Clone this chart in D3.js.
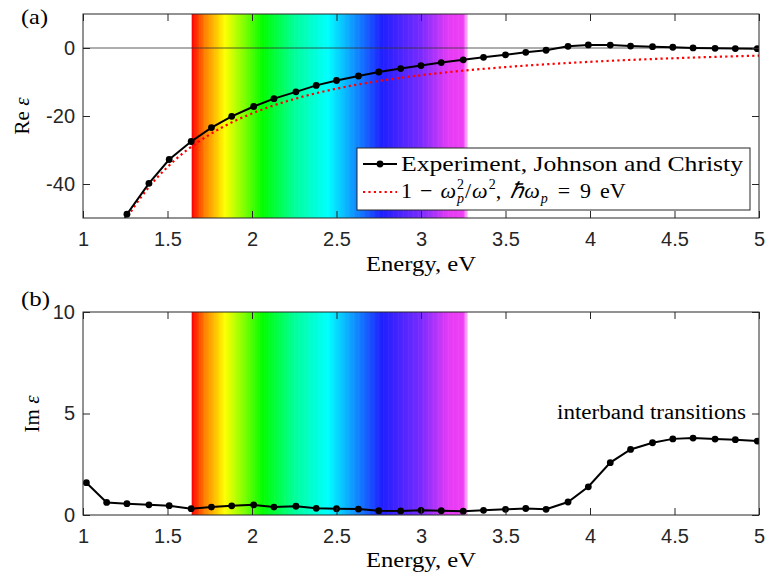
<!DOCTYPE html>
<html><head><meta charset="utf-8">
<script src="https://cdn.jsdelivr.net/npm/d3@7"></script>
<style>
body{margin:0;background:#fff;}
svg{display:block;}
</style></head>
<body>
<svg id="chart" width="768" height="576"></svg>
<script>
// ---- data (silver, Johnson & Christy) ----
const energy = [1.02,1.14,1.26,1.39,1.51,1.64,1.76,1.88,2.01,2.13,2.26,2.38,2.50,2.63,2.75,2.88,3.00,3.12,3.25,3.37,3.50,3.62,3.74,3.87,3.99,4.12,4.24,4.37,4.49,4.61,4.74,4.86,4.99];
const reEps = [-77.9,-60.8,-48.9,-39.8,-32.8,-27.5,-23.4,-20.1,-17.2,-14.9,-12.9,-11.0,-9.56,-8.23,-7.06,-6.06,-5.17,-4.28,-3.47,-2.74,-2.00,-1.28,-0.66,0.50,0.90,0.87,0.58,0.39,0.22,0.02,-0.10,-0.17,-0.21];
const imEps = [1.59,0.62,0.56,0.50,0.46,0.31,0.39,0.45,0.50,0.39,0.43,0.33,0.31,0.29,0.21,0.20,0.23,0.21,0.19,0.23,0.28,0.32,0.28,0.64,1.39,2.58,3.23,3.56,3.75,3.79,3.74,3.71,3.64];
// Drude curve
const drudeEnergy = [1.0,1.1,1.2,1.25,1.3,1.4,1.5,1.6,1.75,1.9,2.0,2.25,2.5,2.75,3.0,3.25,3.5,3.75,4.0,4.25,4.5,4.75,5.0];
const drudeEps   = [-80,-65.9,-55.25,-50.8,-46.9,-40.3,-35,-30.6,-25.45,-21.4,-19.25,-15,-11.96,-9.71,-8,-6.67,-5.61,-4.76,-4.06,-3.48,-3,-2.59,-2.24];
// visible range (eV)
const visible = [1.643, 3.272];
const xTicks = [1,1.5,2,2.5,3,3.5,4,4.5,5];
const xTickLabels = ["1","1.5","2","2.5","3","3.5","4","4.5","5"];
const reTicks = [-40,-20,0];
const reTickLabels = ["-40","-20","0"];
const imTicks = [0,5,10];
const imTickLabels = ["0","5","10"];
const legendLabel = "Experiment, Johnson and Christy";

// ---- styles ----
const specStopE = [1.643,1.72,1.84,2.065,2.25,2.45,2.77,3.0,3.16,3.255,3.262,3.272];
const specStopC = ["#ff0000","#ff8000","#ffff00","#00ff00","#00ff99","#00ffff","#1f1fff","#7a2cff","#e33cf5","#f040f5","#f6a0f8","#f6a0f8"];
const axisColor = "#262626";
const sansFont = "'Liberation Sans', Arial, sans-serif";
const serifFont = "'Liberation Serif', 'Times New Roman', serif";

const svg = d3.select("#chart");
const x = d3.scaleLinear().domain([1,5]).range([83,759]);
const yRe = d3.scaleLinear().domain([-50,10]).range([218,14]);
const yIm = d3.scaleLinear().domain([0,10]).range([515,312]);
const specColor = d3.scaleLinear().domain(specStopE).range(specStopC).interpolate(d3.interpolateRgb);

function panel(id, y) {
  const [x0,x1] = x.range();
  const [yb,yt] = y.range();
  const g = svg.append("g");
  svg.append("clipPath").attr("id","clip"+id).append("rect")
    .attr("x",x0).attr("y",yt).attr("width",x1-x0).attr("height",yb-yt);
  const inner = g.append("g").attr("clip-path",`url(#clip${id})`);
  const n = 220;
  const stripes = d3.range(n).map(i => visible[0] + (visible[1]-visible[0])*i/n);
  const dw = (visible[1]-visible[0])/n;
  inner.append("g").selectAll("rect").data(stripes).join("rect")
    .attr("x", d => x(d))
    .attr("width", d => x(d+dw)-x(d)+0.6)
    .attr("y", yt).attr("height", yb-yt)
    .attr("fill", d => specColor(d+dw/2));
  return {g, inner, x0, x1, yb, yt};
}

function axes(p, y, yTicks, yLabels) {
  const {g,x0,x1,yb,yt} = p;
  const ax = g.append("g").attr("transform",`translate(0,${yb})`)
    .call(d3.axisBottom(x).tickValues(xTicks).tickFormat((d,i)=>xTickLabels[i]).tickSizeInner(-7).tickSizeOuter(0).tickPadding(14));
  const axT = g.append("g").attr("transform",`translate(0,${yt})`)
    .call(d3.axisTop(x).tickValues(xTicks).tickFormat("").tickSizeInner(-7).tickSizeOuter(0));
  const ay = g.append("g").attr("transform",`translate(${x0},0)`)
    .call(d3.axisLeft(y).tickValues(yTicks).tickFormat((d,i)=>yLabels[i]).tickSizeInner(-7).tickSizeOuter(0).tickPadding(8));
  const ayR = g.append("g").attr("transform",`translate(${x1},0)`)
    .call(d3.axisRight(y).tickValues(yTicks).tickFormat("").tickSizeInner(-7).tickSizeOuter(0));
  [ax,axT,ay,ayR].forEach(a => {
    a.select(".domain").remove();
    a.selectAll("line").attr("stroke",axisColor).attr("stroke-width",1);
    a.selectAll("text").attr("fill",axisColor).style("font-family",sansFont).style("font-size","20px");
  });
  g.append("rect").attr("x",x0).attr("y",yt).attr("width",x1-x0).attr("height",yb-yt)
    .attr("fill","none").attr("stroke",axisColor).attr("stroke-width",1);
}

// ---- panel (a) ----
const pa = panel("a", yRe);
pa.inner.append("line").attr("x1",pa.x0).attr("x2",pa.x1).attr("y1",yRe(0)).attr("y2",yRe(0))
  .attr("stroke","#333").attr("stroke-width",0.8);
pa.inner.append("path")
  .datum(drudeEnergy.map((e,i)=>[e,drudeEps[i]]))
  .attr("d", d3.line().x(d=>x(d[0])).y(d=>yRe(d[1])).curve(d3.curveMonotoneX))
  .attr("fill","none").attr("stroke","#ff0000").attr("stroke-width",2.2).attr("stroke-dasharray","2.2,3.2");
pa.inner.append("path")
  .datum(energy.map((e,i)=>[e,reEps[i]]))
  .attr("d", d3.line().x(d=>x(d[0])).y(d=>yRe(d[1])))
  .attr("fill","none").attr("stroke","#000").attr("stroke-width",2);
pa.inner.append("g").selectAll("circle").data(energy.map((e,i)=>[e,reEps[i]])).join("circle")
  .attr("cx",d=>x(d[0])).attr("cy",d=>yRe(d[1])).attr("r",3.4).attr("fill","#000");
axes(pa, yRe, reTicks, reTickLabels);

// ---- panel (b) ----
const pb = panel("b", yIm);
pb.inner.append("path")
  .datum(energy.map((e,i)=>[e,imEps[i]]))
  .attr("d", d3.line().x(d=>x(d[0])).y(d=>yIm(d[1])))
  .attr("fill","none").attr("stroke","#000").attr("stroke-width",2);
pb.inner.append("g").selectAll("circle").data(energy.map((e,i)=>[e,imEps[i]])).join("circle")
  .attr("cx",d=>x(d[0])).attr("cy",d=>yIm(d[1])).attr("r",3.4).attr("fill","#000");
axes(pb, yIm, imTicks, imTickLabels);

// ---- text ----
function serif(t, xx, yy, size, anchor, len) {
  const s = svg.append("text").attr("x",xx).attr("y",yy).attr("text-anchor",anchor||"start")
    .style("font-family",serifFont).style("font-size",size+"px").attr("fill","#000").text(t);
  if (len) s.attr("textLength",len).attr("lengthAdjust","spacingAndGlyphs");
  return s;
}
serif("(a)", 21, 24, 21, "start", 27);
serif("(b)", 21, 306, 21, "start", 29);
serif("Energy, eV", 421, 271, 21, "middle", 110);
serif("Energy, eV", 421, 567, 21, "middle", 110);
const reL = svg.append("text").attr("transform","translate(29,116) rotate(-90)").attr("text-anchor","middle")
  .style("font-family",serifFont).style("font-size","21px");
reL.append("tspan").text("Re ");
reL.append("tspan").style("font-style","italic").text("ε");
const imL = svg.append("text").attr("transform","translate(39,414) rotate(-90)").attr("text-anchor","middle")
  .style("font-family",serifFont).style("font-size","21px");
imL.append("tspan").text("Im ");
imL.append("tspan").style("font-style","italic").text("ε");
serif("interband transitions", 746, 419, 20, "end", 189);

// ---- legend ----
const lg = svg.append("g");
lg.append("rect").attr("x",357).attr("y",148).attr("width",393).attr("height",62)
  .attr("fill","#fff").attr("stroke",axisColor).attr("stroke-width",1);
lg.append("line").attr("x1",363).attr("x2",397).attr("y1",164).attr("y2",164).attr("stroke","#000").attr("stroke-width",2);
lg.append("circle").attr("cx",380).attr("cy",164).attr("r",3.4).attr("fill","#000");
lg.append("line").attr("x1",363).attr("x2",397).attr("y1",192).attr("y2",192).attr("stroke","#ff0000").attr("stroke-width",2.2).attr("stroke-dasharray","2.2,3.2");
lg.append("text").attr("x",401).attr("y",171).style("font-family",serifFont).style("font-size","21px")
  .attr("textLength",342).attr("lengthAdjust","spacingAndGlyphs").text(legendLabel);
// formula line: pieces positioned sequentially
const fy = 198;
let cx = 401;
function piece(t, opts) {
  const o = Object.assign({size:22, dy:0, italic:false, adv:true}, opts||{});
  const el = lg.append("text").attr("x",cx).attr("y",fy+o.dy)
    .style("font-family",serifFont).style("font-size",o.size+"px")
    .style("font-style",o.italic?"italic":"normal").text(t);
  const w = el.node().getComputedTextLength();
  if (o.adv) cx += w;
  return w;
}
function gap(w) { cx += w; }
piece("1"); gap(8);
piece("−"); gap(8);
piece("ω", {italic:true}); gap(1);
const w2 = piece("2", {size:14, dy:-9, adv:false});
const wp = piece("p", {size:14, dy:5, italic:true, adv:false});
gap(Math.max(w2, wp) + 1);
piece("/"); gap(1);
piece("ω", {italic:true}); gap(1);
piece("2", {size:14, dy:-9});
piece(","); gap(9);
piece("ℏω", {italic:true}); gap(1);
piece("p", {size:14, dy:5, italic:true}); gap(10);
piece("="); gap(10);
piece("9"); gap(9);
piece("eV");
</script>
</body></html>
